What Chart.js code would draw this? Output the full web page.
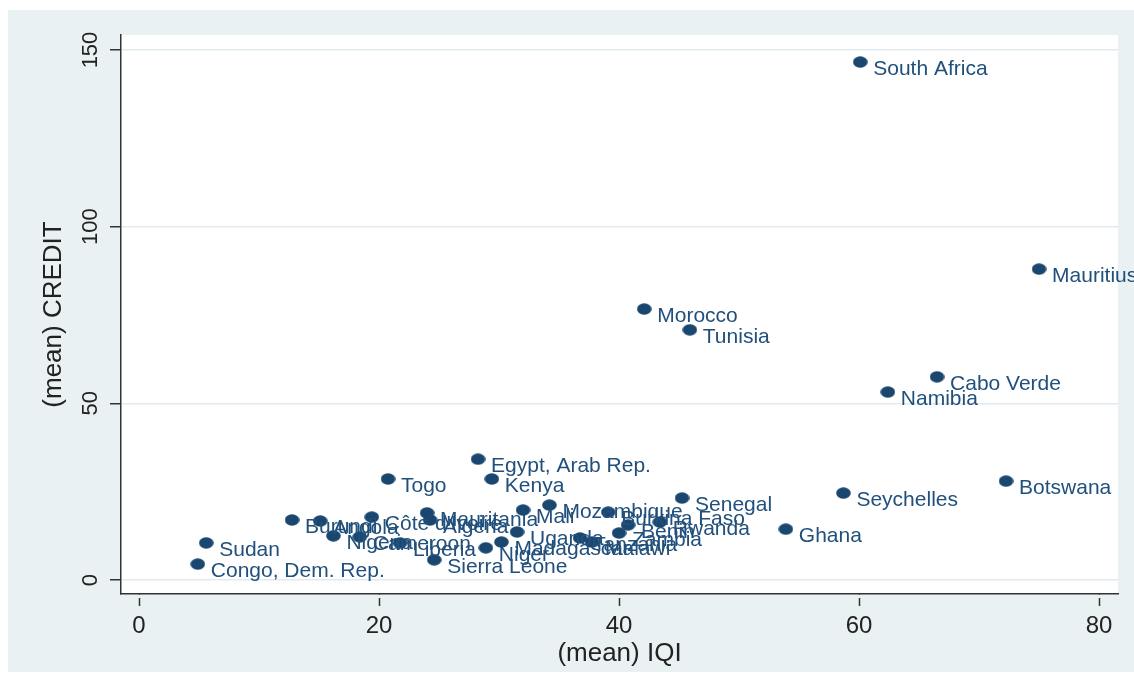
<!DOCTYPE html>
<html>
<head>
<meta charset="utf-8">
<script src="https://cdn.jsdelivr.net/npm/chart.js@4.4.1/dist/chart.umd.min.js"></script>
<style>
	body { margin: 0; background: #ffffff; }
	canvas { display: block; }
</style>
</head>
<body>
<canvas id="myScatter" width="1134" height="677"></canvas>
<script>
	// values
	var countries = ["South Africa", "Mauritius", "Morocco", "Tunisia", "Cabo Verde", "Namibia",
		"Egypt, Arab Rep.", "Togo", "Kenya", "Botswana", "Seychelles", "Senegal", "Mozambique",
		"Mali", "Burkina Faso", "Ghana", "Sudan", "Congo, Dem. Rep.", "Burundi", "Angola",
		"Nigeria", "Cameroon", "Côte d'Ivoire", "Liberia", "Sierra Leone", "Mauritania",
		"Algeria", "Niger", "Madagascar", "Uganda", "Tanzania", "Malawi", "Zambia", "Benin", "Rwanda"];
	var iqi = [60.1, 75.0, 42.1, 45.9, 66.5, 62.4,
		28.25, 20.75, 29.4, 72.25, 58.7, 45.25, 34.2,
		32.0, 39.1, 53.9, 5.6, 4.9, 12.75, 15.1,
		16.2, 18.4, 19.4, 21.75, 24.6, 24.0,
		24.25, 28.9, 30.2, 31.5, 36.75, 37.75, 40.0, 40.75, 43.4];
	var credit = [146.6, 88.0, 76.7, 70.8, 57.5, 53.2,
		34.2, 28.6, 28.6, 28.0, 24.6, 23.2, 21.2,
		19.8, 19.2, 14.4, 10.5, 4.5, 17.0, 16.7,
		12.5, 12.2, 17.8, 10.5, 5.7, 19.0,
		17.0, 9.1, 10.75, 13.6, 11.9, 10.75, 13.3, 15.6, 16.4];
	var xTicks = [0, 20, 40, 60, 80];
	var yTicks = [0, 50, 100, 150];

	var navy = "#1a476f";
	var labelColor = "#21507c";
	var bgColor = "#eaf1f3";

	function makeDot(){
		var c = document.createElement("canvas");
		c.width = 15;
		c.height = 12;
		var g = c.getContext("2d");
		g.fillStyle = navy;
		g.beginPath();
		g.ellipse(7.5, 6, 7.3, 5.8, 0, 0, Math.PI * 2);
		g.fill();
		return c;
	};

	var points = [];
	for(var i=0; i<countries.length; i++){
		points.push({x: iqi[i], y: credit[i]});
	}

	var backdrop = {
		id: "backdrop",
		beforeDraw: function(chart){
			var ctx = chart.ctx;
			var a = chart.chartArea;
			ctx.save();
			ctx.fillStyle = "#ffffff";
			ctx.fillRect(0, 0, chart.width, chart.height);
			ctx.fillStyle = bgColor;
			ctx.fillRect(8, 10, chart.width - 8, chart.height - 15);
			ctx.fillStyle = "#ffffff";
			ctx.fillRect(a.left, a.top, a.right - a.left, a.bottom - a.top);
			ctx.restore();
		},
		afterDraw: function(chart){
			// small gap between x axis line and its ticks
			var ctx = chart.ctx;
			var a = chart.chartArea;
			ctx.save();
			ctx.fillStyle = bgColor;
			ctx.fillRect(a.left + 2, a.bottom + 1, a.right - a.left, 3);
			ctx.restore();
		}
	};

	var pointLabels = {
		id: "pointLabels",
		afterDatasetsDraw: function(chart){
			var ctx = chart.ctx;
			var meta = chart.getDatasetMeta(0);
			ctx.save();
			ctx.font = "21px 'Liberation Sans', Arial, sans-serif";
			ctx.fillStyle = labelColor;
			ctx.textBaseline = "middle";
			ctx.textAlign = "left";
			meta.data.forEach(function(pt, i){
				ctx.fillText(countries[i], pt.x + 13, pt.y + 7);
			});
			ctx.restore();
		}
	};

	var chart = new Chart(document.getElementById("myScatter"), {
		type: "scatter",
		data: {
			datasets: [{
				label: "(mean) CREDIT",
				data: points,
				pointStyle: makeDot(),
				pointRadius: 7,
				backgroundColor: navy,
				borderColor: navy
			}]
		},
		options: {
			responsive: false,
			animation: false,
			events: [],
			layout: { padding: { left: 0, top: 35, right: 16, bottom: 0 } },
			plugins: {
				legend: { display: false },
				tooltip: { enabled: false }
			},
			scales: {
				x: {
					type: "linear",
					min: -1.5,
					max: 81.58,
					afterBuildTicks: function(scale){
						scale.ticks = xTicks.map(function(v){ return {value: v}; });
					},
					afterFit: function(scale){ scale.height = 83; },
					border: { display: true, color: "#333333", width: 1.5 },
					grid: { drawOnChartArea: false, drawTicks: true, tickLength: 12, tickColor: "#333333", tickWidth: 1.5 },
					ticks: {
						color: "#222222",
						padding: 6,
						maxRotation: 0,
						font: { family: "'Liberation Sans', Arial", size: 24 }
					},
					title: {
						display: true,
						text: "(mean) IQI",
						color: "#222222",
						padding: { top: 0, bottom: 8 },
						font: { family: "'Liberation Sans', Arial", size: 26 }
					}
				},
				y: {
					type: "linear",
					min: -3.96,
					max: 154.25,
					afterBuildTicks: function(scale){
						scale.ticks = yTicks.map(function(v){ return {value: v}; });
					},
					afterFit: function(scale){ scale.width = 121; },
					border: { display: true, color: "#333333", width: 1.5 },
					grid: { drawOnChartArea: true, color: "#e1ebef", lineWidth: 1.5, drawTicks: true, tickLength: 11, tickColor: "#333333", tickWidth: 1.5 },
					ticks: {
						color: "#222222",
						padding: 1,
						minRotation: 90,
						maxRotation: 90,
						crossAlign: "center",
						font: { family: "'Liberation Sans', Arial", size: 22 }
					},
					title: {
						display: true,
						text: "(mean) CREDIT",
						color: "#222222",
						padding: { top: 38, bottom: 0 },
						font: { family: "'Liberation Sans', Arial", size: 26 }
					}
				}
			}
		},
		plugins: [backdrop, pointLabels]
	});
</script>
</body>
</html>
